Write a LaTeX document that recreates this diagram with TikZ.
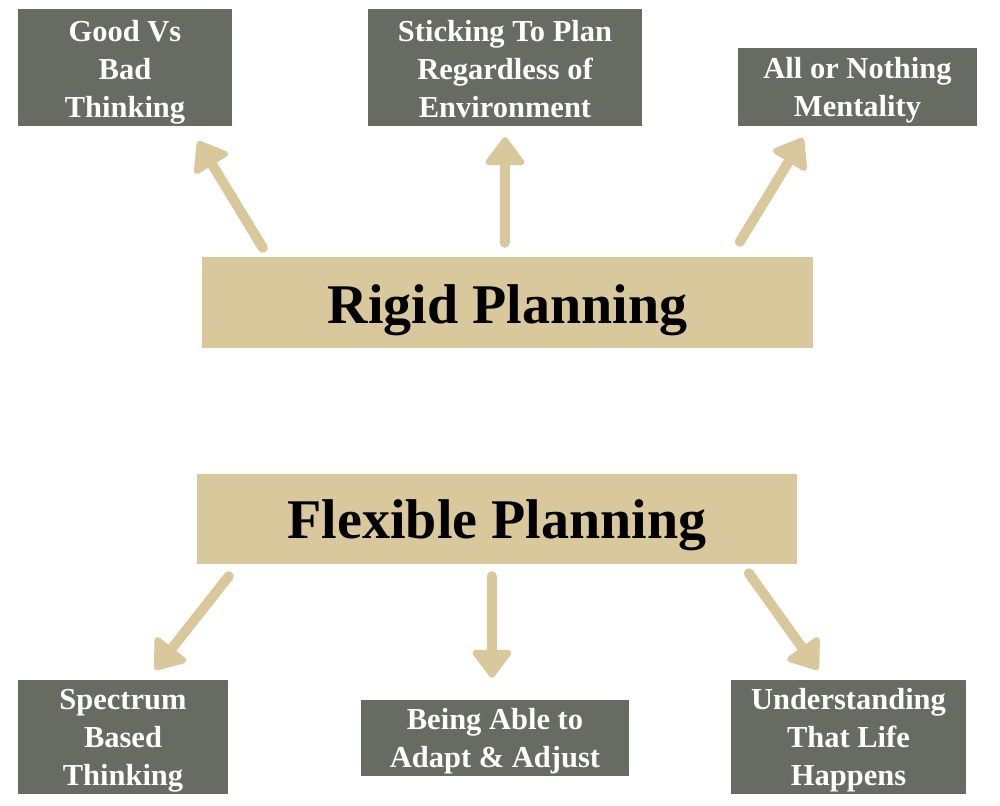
\documentclass[tikz,border=0pt]{standalone}
\usepackage{fontspec}
\setmainfont{Liberation Serif}
\usetikzlibrary{calc}
\definecolor{tanc}{HTML}{D8C89B}
\definecolor{slatec}{HTML}{676B62}
\newcommand\farrow[2]{%
  \coordinate (fa-tip) at ($(#2)!3pt!(#1)$);
  \coordinate (fa-base) at ($(#2)!25pt!(#1)$);
  \draw[shaft] (#1) -- (fa-base);
  \filldraw[headstyle] (fa-tip) -- ($(fa-base)!16.5pt!90:(#2)$) -- ($(fa-base)!16.5pt!-90:(#2)$) -- cycle;
}
\begin{document}
\begin{tikzpicture}[x=1pt,y=-1pt,
  subbox/.style={fill=slatec,inner sep=0pt},
  subtext/.style={text=white,font=\fontsize{30.5}{38}\selectfont\bfseries,align=center,inner sep=0pt},
  mainbox/.style={fill=tanc,inner sep=0pt},
  maintext/.style={text=black,font=\fontsize{56}{60}\selectfont\bfseries,inner sep=0pt},
  shaft/.style={draw=tanc,line width=10pt,line cap=round},
  headstyle/.style={draw=tanc,fill=tanc,line width=6pt,line join=round}]
\useasboundingbox[fill=white] (0,0) rectangle (1000,805);

\node[subbox,minimum width=214pt,minimum height=117pt] (good) at (125,67.5) {};
\node[subtext] (goodt) at ([yshift=-4.5pt]good.center) {Good Vs\\Bad\\Thinking};
\node[subbox,minimum width=274pt,minimum height=117pt] (stick) at (505,67.5) {};
\node[subtext] (stickt) at ([yshift=-2pt]stick.center) {Sticking To Plan\\Regardless of\\Environment};
\node[subbox,minimum width=239pt,minimum height=78pt] (all) at (857.5,87) {};
\node[subtext] (allt) at ([yshift=-3pt]all.center) {All or Nothing\\Mentality};
\node[mainbox,minimum width=611pt,minimum height=91pt] (rigid) at (507.5,302.5) {};
\node[maintext] (rigidt) at ([yshift=-8pt]rigid.center) {Rigid Planning};

\node[mainbox,minimum width=600pt,minimum height=90pt] (flex) at (497,519) {};
\node[maintext] (flext) at ([yshift=-6pt]flex.center) {Flexible Planning};
\node[subbox,minimum width=210pt,minimum height=114pt] (spec) at (123,737) {};
\node[subtext] (spect) at ([yshift=-3.5pt]spec.center) {Spectrum\\Based\\Thinking};
\node[subbox,minimum width=268pt,minimum height=76pt] (able) at (495,738) {};
\node[subtext] (ablet) at ([yshift=-3pt]able.center) {Being Able to\\Adapt \& Adjust};
\node[subbox,minimum width=235pt,minimum height=114pt] (und) at (848.5,737) {};
\node[subtext] (undt) at ([yshift=-3pt]und.center) {Understanding\\That Life\\Happens};

\coordinate (t1) at ($(rigid.north west)+(61,-9)$);
\coordinate (t2) at ($(rigid.north west)+(303,-14)$);
\coordinate (t3) at ($(rigid.north west)+(538,-15)$);
\coordinate (h1) at ($(good.south)+(73,15)$);
\coordinate (h2) at ($(stick.south)+(0,11)$);
\coordinate (h3) at ($(all.south)+(-54.5,12)$);
\farrow{t1}{h1}
\farrow{t2}{h2}
\farrow{t3}{h3}

\coordinate (t4) at ($(flex.south west)+(32,12)$);
\coordinate (t5) at ($(flex.south west)+(295,12)$);
\coordinate (t6) at ($(flex.south west)+(552,9)$);
\coordinate (h4) at ($(spec.north)+(32,-10)$);
\coordinate (h5) at ($(able.north)+(-3,-22)$);
\coordinate (h6) at ($(und.north)+(-30.5,-10)$);
\farrow{t4}{h4}
\farrow{t5}{h5}
\farrow{t6}{h6}
\end{tikzpicture}
\end{document}
